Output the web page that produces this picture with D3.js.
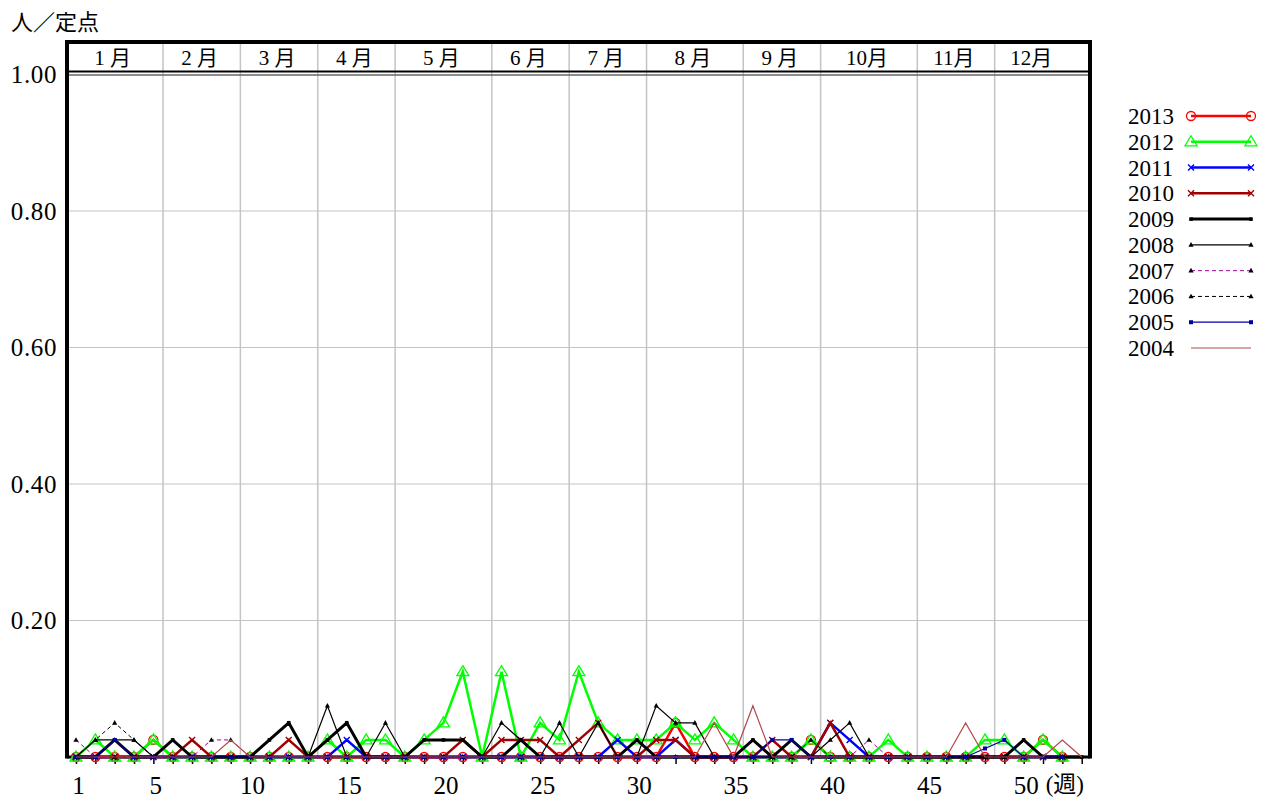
<!DOCTYPE html>
<html>
<head>
<meta charset="utf-8">
<script src="https://cdn.jsdelivr.net/npm/d3@7"></script>
<style>
  body { margin: 0; background: #fff; }
  svg { display: block; }
</style>
</head>
<body>
<div id="chart"></div>
<script>
// weekly values (人/定点), week 1 first
const v2013 = [0,0,0,0,0.025,0,0,0,0,0,0,0,0,0,0,0,0,0,0,0,0,0,0,0,0,0,0,0,0,0,0,0.05,0,0,0,0,0,0,0.025,0,0,0,0,0,0,0,0,0,0,0,0.025,0];
const v2012 = [0,0.025,0,0,0.025,0,0,0,0,0,0,0,0,0.025,0,0.025,0.025,0,0.025,0.05,0.125,0,0.125,0,0.05,0.025,0.125,0.05,0.025,0.025,0.025,0.05,0.025,0.05,0.025,0,0,0,0.025,0,0,0,0.025,0,0,0,0,0.025,0.025,0,0.025,0];
const v2011 = [0,0,0,0,0,0,0,0,0,0,0,0,0,0,0.025,0,0,0,0,0,0,0,0,0,0,0,0,0,0.025,0,0,0.025,0,0,0,0,0,0,0,0.05,0.025,0,0,0,0,0,0,0,0,0,0,0];
const v2010 = [0,0,0,0,0,0,0.025,0,0,0,0,0.025,0,0,0,0,0,0,0,0,0.025,0,0.025,0.025,0.025,0,0.025,0.05,0,0,0.025,0.025,0,0,0,0,0.025,0,0,0.05,0,0,0,0,0,0,0,0,0,0,0,0];
const v2009 = [0,0,0.025,0,0,0.025,0,0,0,0,0.025,0.05,0,0.025,0.05,0,0,0,0.025,0.025,0.025,0,0,0.025,0,0,0,0,0,0.025,0,0,0,0,0,0.025,0,0.025,0,0,0,0,0,0,0,0,0,0,0,0.025,0,0,0];
const v2008 = [0,0.025,0.025,0.025,0,0,0,0,0,0,0,0,0,0.075,0,0,0.05,0,0,0,0,0,0.05,0.025,0,0.05,0,0.05,0,0,0.075,0.05,0.05,0,0,0,0,0,0,0.025,0.05,0,0,0,0,0,0,0,0,0,0,0];
const v2007 = [0.025,0,0,0,0,0,0,0.025,0.025,0,0,0,0,0,0,0,0,0,0,0,0,0,0,0,0,0,0,0,0,0,0,0,0,0,0,0,0,0,0,0,0,0.025,0,0,0,0,0,0,0,0,0,0];
const v2006 = [0,0.025,0.05,0.025,0,0,0,0,0,0,0,0,0,0,0,0,0,0,0,0,0,0,0,0,0,0,0,0,0,0,0,0,0,0,0,0,0,0,0.025,0,0,0,0,0,0,0,0,0,0,0,0,0];
const v2005 = [0,0,0.025,0,0,0,0,0,0,0,0,0,0,0,0,0,0,0,0,0,0,0,0,0,0,0,0,0,0,0,0,0,0,0,0,0,0.025,0.025,0,0,0,0,0,0,0,0,0,0.0125,0.025,0,0,0];
const v2004 = [0,0,0,0,0,0,0,0,0.025,0,0,0,0,0,0,0,0,0,0,0,0,0,0,0,0,0,0,0,0,0,0,0,0,0.05,0,0.075,0,0,0,0,0,0,0,0,0,0,0.05,0,0,0,0,0.025,0];

const years = ["2013","2012","2011","2010","2009","2008","2007","2006","2005","2004"];
const yTicks = [1.0, 0.8, 0.6, 0.4, 0.2];
const xLabels = [1,5,10,15,20,25,30,35,40,45,50];
const monthNames = ["1 月","2 月","3 月","4 月","5 月","6 月","7 月","8 月","9 月","10月","11月","12月"];
const monthStart = [1,6,10,14,18,23,27,31,36,40,45,49];
const monthEnd = [5,9,13,17,22,26,30,35,39,44,48,52];

const series = [
  {year: "2013", values: v2013, color: "#ff0000", width: 2.5, dash: null, marker: "circle"},
  {year: "2012", values: v2012, color: "#00ff00", width: 2.5, dash: null, marker: "triangle"},
  {year: "2011", values: v2011, color: "#0000ff", width: 2.5, dash: null, marker: "times"},
  {year: "2010", values: v2010, color: "#a00000", width: 2.5, dash: null, marker: "times"},
  {year: "2009", values: v2009, color: "#000000", width: 3, dash: null, marker: "dot"},
  {year: "2008", values: v2008, color: "#000000", width: 1.2, dash: null, marker: "smalltri"},
  {year: "2007", values: v2007, color: "#a000a0", width: 1, dash: "4,3", marker: "smalltri"},
  {year: "2006", values: v2006, color: "#000000", width: 1, dash: "4,3", marker: "smalltri"},
  {year: "2005", values: v2005, color: "#0000a0", width: 1.2, dash: null, marker: "square"},
  {year: "2004", values: v2004, color: "#b04848", width: 1.2, dash: null, marker: "none"}
];

const W = 1271, H = 799;
const plotLeft = 67, plotRight = 1090, plotTop = 42, plotBottom = 757;

const svg = d3.select("#chart").append("svg")
  .attr("width", W).attr("height", H)
  .style("font-family", "'Liberation Serif', 'Noto Sans CJK JP', serif");

const x = d3.scaleLinear().domain([1, 53]).range([76, 1081.7]);
const y = d3.scaleLinear().domain([0, 1]).range([plotBottom, 74.5]);

// grid
svg.append("g").selectAll("line")
  .data(yTicks.filter(d => d < 1))
  .join("line")
    .attr("x1", plotLeft).attr("x2", plotRight)
    .attr("y1", d => y(d)).attr("y2", d => y(d))
    .attr("stroke", "#c4c4c4").attr("stroke-width", 1.2);

svg.append("g").selectAll("line")
  .data(monthStart.slice(1))
  .join("line")
    .attr("x1", d => x(d - 0.5)).attr("x2", d => x(d - 0.5))
    .attr("y1", plotTop).attr("y2", plotBottom)
    .attr("stroke", "#c4c4c4").attr("stroke-width", 1.5);

// month header
svg.append("g").selectAll("text")
  .data(monthNames)
  .join("text")
    .attr("x", (d, i) => x((monthStart[i] + monthEnd[i]) / 2) - 2)
    .attr("y", 58)
    .attr("dy", "0.35em")
    .attr("text-anchor", "middle")
    .attr("font-size", 21)
    .text(d => d);

svg.append("line")
  .attr("x1", plotLeft).attr("x2", plotRight)
  .attr("y1", y(1) - 3).attr("y2", y(1) - 3)
  .attr("stroke", "#000").attr("stroke-width", 2);
svg.append("line")
  .attr("x1", plotLeft).attr("x2", plotRight)
  .attr("y1", y(1) + 0.5).attr("y2", y(1) + 0.5)
  .attr("stroke", "#666").attr("stroke-width", 1.5);

// y labels
svg.append("g").selectAll("text")
  .data(yTicks)
  .join("text")
    .attr("x", 57)
    .attr("y", d => y(d))
    .attr("dy", "0.35em")
    .attr("text-anchor", "end")
    .attr("font-size", 25)
    .attr("letter-spacing", 0.6)
    .text(d => d3.format(".2f")(d));

svg.append("text")
  .attr("x", 11).attr("y", 22)
  .attr("dy", "0.35em")
  .attr("font-size", 22)
  .attr("font-family", "'Noto Sans CJK JP'")
  .text("人／定点");

// x axis
const xAxis = svg.append("g")
  .attr("transform", `translate(0, ${plotBottom})`)
  .call(d3.axisBottom(x)
    .tickValues(d3.range(1, 54))
    .tickSize(7)
    .tickPadding(12)
    .tickFormat(d => xLabels.includes(d) ? d : ""));
xAxis.select(".domain").remove();
xAxis.selectAll(".tick line").attr("stroke", "#000").attr("stroke-width", 1.5);
xAxis.selectAll("text")
  .attr("font-size", 25)
  .attr("font-family", "'Liberation Serif'")
  .attr("fill", "#000")
  .attr("dx", 2);

svg.append("text")
  .attr("x", x(50) + 22).attr("y", plotBottom + 19)
  .attr("dy", "0.71em")
  .attr("font-size", 23)
  .text("(週)");

svg.append("line")
  .attr("x1", plotLeft).attr("x2", plotRight)
  .attr("y1", plotBottom).attr("y2", plotBottom)
  .attr("stroke", "#000").attr("stroke-width", 3);

// markers
function drawMarker(g, type, color, cx, cy) {
  if (type === "circle") {
    g.append("circle").attr("cx", cx).attr("cy", cy).attr("r", 4.5)
      .attr("fill", "none").attr("stroke", color).attr("stroke-width", 1.3);
  } else if (type === "triangle") {
    g.append("path")
      .attr("d", `M${cx},${cy - 6}L${cx + 6},${cy + 4}L${cx - 6},${cy + 4}Z`)
      .attr("fill", "none").attr("stroke", color).attr("stroke-width", 1.3);
  } else if (type === "times") {
    g.append("path")
      .attr("d", `M${cx - 3},${cy - 3}L${cx + 3},${cy + 3}M${cx - 3},${cy + 3}L${cx + 3},${cy - 3}`)
      .attr("stroke", color).attr("stroke-width", 1.4);
  } else if (type === "dot") {
    g.append("rect").attr("x", cx - 1.8).attr("y", cy - 1.8)
      .attr("width", 3.6).attr("height", 3.6).attr("fill", color);
  } else if (type === "smalltri") {
    g.append("path")
      .attr("d", `M${cx},${cy - 2.8}L${cx + 2.6},${cy + 1.8}L${cx - 2.6},${cy + 1.8}Z`)
      .attr("fill", "#000");
  } else if (type === "square") {
    g.append("rect").attr("x", cx - 2).attr("y", cy - 2)
      .attr("width", 4).attr("height", 4).attr("fill", color);
  }
}

const line = d3.line()
  .x((d, i) => x(i + 1))
  .y(d => y(d));

series.forEach(function(s) {
  const g = svg.append("g").attr("class", "series-" + s.year);
  g.append("path")
    .datum(s.values)
    .attr("d", line)
    .attr("fill", "none")
    .attr("stroke", s.color)
    .attr("stroke-width", s.width)
    .attr("stroke-dasharray", s.dash)
    .attr("stroke-linejoin", "miter");
  s.values.forEach(function(v, i) {
    drawMarker(g, s.marker, s.color, x(i + 1), y(v));
  });
});

// frame (left, top, right)
svg.append("path")
  .attr("d", `M${plotLeft},${plotBottom + 1.5}V${plotTop}H${plotRight}V${plotBottom + 1.5}`)
  .attr("fill", "none")
  .attr("stroke", "#000")
  .attr("stroke-width", 4);

// legend
const legendY = d3.scalePoint().domain(years).range([116, 348]);
const legend = svg.append("g");
series.forEach(function(s) {
  const ly = legendY(s.year);
  legend.append("text")
    .attr("x", 1128).attr("y", ly)
    .attr("dy", "0.35em")
    .attr("font-size", 23)
    .text(s.year);
  legend.append("line")
    .attr("x1", 1191).attr("x2", 1251)
    .attr("y1", ly).attr("y2", ly)
    .attr("stroke", s.color)
    .attr("stroke-width", s.width)
    .attr("stroke-dasharray", s.dash);
  drawMarker(legend, s.marker, s.color, 1191, ly);
  drawMarker(legend, s.marker, s.color, 1251, ly);
});
</script>
</body>
</html>
